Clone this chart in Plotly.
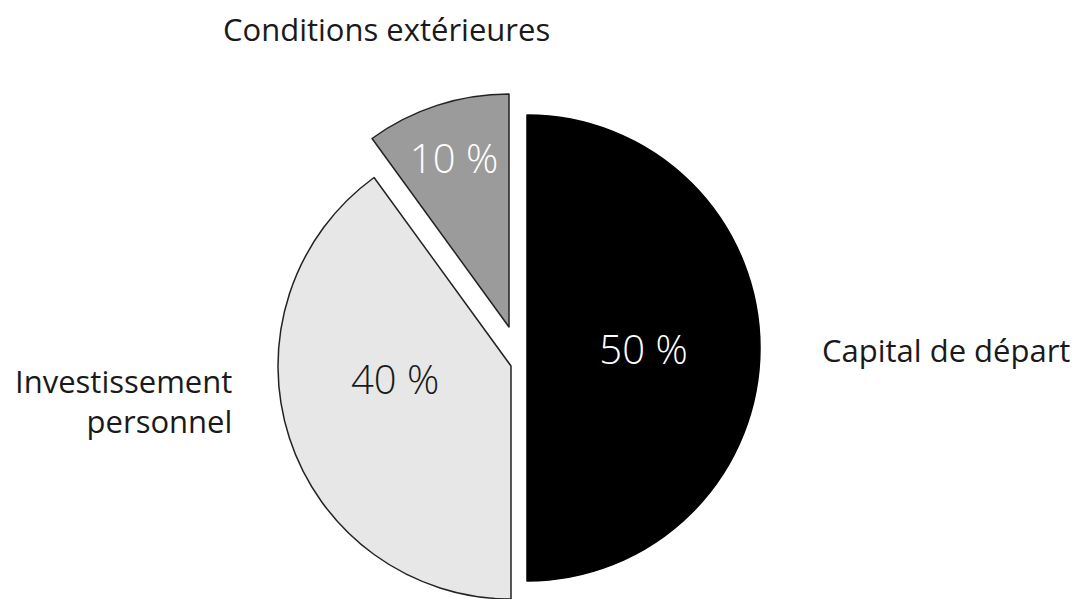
import plotly.graph_objects as go

labels = ["Capital de départ", "Investissement personnel", "Conditions extérieures"]
values = [50, 40, 10]
colors = ["#000000", "#e7e7e7", "#9b9b9b"]
text_colors = ["#ffffff", "#1a1a1a", "#ffffff"]
line_colors = ["#000000", "#222222", "#222222"]

W, H = 1073, 599
R = 233
# slice vertex position (pixels) for each slice — exploded illustration layout
centers = [(527, 348), (511, 366), (509, 327)]

fig = go.Figure()
for i, (cx, cy) in enumerate(centers):
    cols = ["rgba(0,0,0,0)"] * len(values)
    cols[i] = colors[i]
    lw = [0] * len(values)
    lw[i] = 1.5
    lc = ["rgba(0,0,0,0)"] * len(values)
    lc[i] = line_colors[i]
    txt = [""] * len(values)
    if i != 1:
        txt[i] = f"{values[i]} %"
    tc = [text_colors[i]] * len(values)
    fig.add_trace(go.Pie(
        labels=labels, values=values, sort=False, direction="clockwise", rotation=0,
        marker=dict(colors=cols, line=dict(color=lc, width=lw)),
        text=txt, textinfo="text", textposition="inside",
        insidetextorientation="horizontal",
        textfont=dict(family="Open Sans", size=40, color=tc, weight=300),
        domain=dict(x=[(cx - R) / W, (cx + R) / W], y=[(H - cy - R) / H, (H - cy + R) / H]),
        showlegend=False, hoverinfo="label+percent",
    ))

# 40 % label placed higher inside its slice, as in the illustration
fig.add_annotation(x=395 / W, y=1 - 378 / H, xref="paper", yref="paper",
                   text=f"{values[1]} %", showarrow=False, xanchor="center", yanchor="middle",
                   font=dict(family="Open Sans", size=40, color=text_colors[1], weight=300))

ann_font = dict(family="Open Sans", size=31, color="#1a1a1a")
fig.add_annotation(x=820 / W, y=1 - 350 / H, xref="paper", yref="paper", text=labels[0],
                   showarrow=False, xanchor="left", yanchor="middle", font=ann_font)
fig.add_annotation(x=234 / W, y=1 - 401 / H, xref="paper", yref="paper",
                   text="Investissement<br>personnel", align="right",
                   showarrow=False, xanchor="right", yanchor="middle", font=ann_font)
fig.add_annotation(x=386 / W, y=1 - 29 / H, xref="paper", yref="paper", text=labels[2],
                   showarrow=False, xanchor="center", yanchor="middle", font=ann_font)

fig.update_layout(width=W, height=H, margin=dict(l=0, r=0, t=0, b=0),
                  paper_bgcolor="white", plot_bgcolor="white")
fig.write_html("out.html")
